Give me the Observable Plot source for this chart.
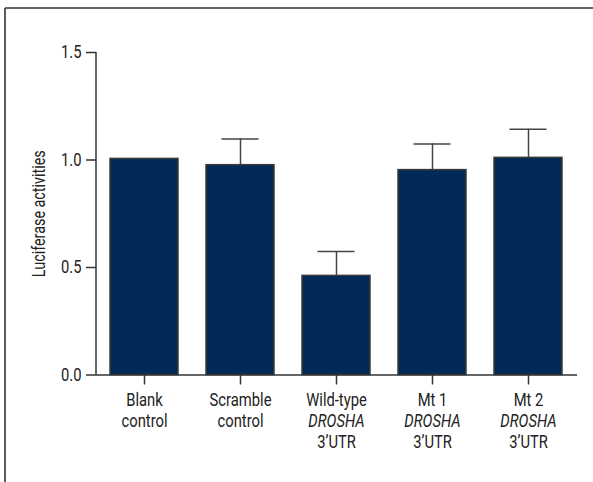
<!DOCTYPE html>
<html>
<head>
<meta charset="utf-8">
<script src="https://cdn.jsdelivr.net/npm/d3@7"></script>
<script src="https://cdn.jsdelivr.net/npm/@observablehq/plot@0.6"></script>
<style>
  html, body { margin: 0; padding: 0; background: #fff; }
  #chart { position: relative; width: 593px; height: 482px; overflow: hidden; }
  #chart svg text { font-family: Roboto, "Noto Sans", sans-serif; }
</style>
</head>
<body>
<div id="chart"></div>
<script>
// Luciferase reporter assay: relative activity per construct (mean + SD)
const categories = [
  "Blank control",
  "Scramble control",
  "Wild-type DROSHA 3'UTR",
  "Mt 1 DROSHA 3'UTR",
  "Mt 2 DROSHA 3'UTR"
];
const values = [1.005, 0.976, 0.461, 0.953, 1.010];
const errors = [0, 0.122, 0.113, 0.122, 0.133];
const labelLines = [
  ["Blank", "control"],
  ["Scramble", "control"],
  ["Wild-type", "DROSHA", "3’UTR"],
  ["Mt 1", "DROSHA", "3’UTR"],
  ["Mt 2", "DROSHA", "3’UTR"]
];
const italicWords = ["DROSHA"];
const yTicks = [0, 0.5, 1.0, 1.5];
const yTitle = "Luciferase activities";

const rows = categories.map((name, i) => ({
  name, value: values[i], err: errors[i], hi: values[i] + errors[i]
}));
const withErr = rows.filter(d => d.err > 0);
const tickLabels = categories.flatMap((name, i) =>
  labelLines[i].map((text, line) => ({
    name, text, line, italic: italicWords.includes(text)
  }))
);

const ink = "#333";
const navy = "#012a59";
const fontSize = 18;

// Outer panel edges and the vertical axis line
function decorations(index, scales, values, dims) {
  const g = d3.create("svg:g");
  g.append("line")
    .attr("x1", 5).attr("x2", dims.width).attr("y1", 8).attr("y2", 8)
    .attr("stroke", ink).attr("stroke-width", 1.6);
  g.append("line")
    .attr("x1", 5).attr("x2", 5).attr("y1", 8).attr("y2", dims.height)
    .attr("stroke", ink).attr("stroke-width", 1.6);
  g.append("line")
    .attr("x1", dims.marginLeft).attr("x2", dims.marginLeft)
    .attr("y1", scales.y(1.5)).attr("y2", scales.y(0))
    .attr("stroke", ink).attr("stroke-width", 1.5);
  return g.node();
}

// One text mark per label line (line 0, 1, 2), italic for gene names
const lineMarks = [0, 1, 2].flatMap(line => [false, true].map(italic =>
  Plot.text(tickLabels.filter(d => d.line === line && d.italic === italic), {
    x: "name", y: 0, text: "text",
    dy: 25.5 + line * 21,
    fontStyle: italic ? "italic" : "normal",
    fontSize, textAnchor: "middle", lineAnchor: "middle", fill: "#222"
  })
));

const chart = Plot.plot({
  width: 593,
  height: 482,
  marginLeft: 96,
  marginRight: 16,
  marginTop: 52,
  marginBottom: 107.5,
  style: { fontSize: `${fontSize}px`, color: "#222", background: "transparent" },
  x: { domain: categories, paddingInner: 0.29, paddingOuter: 0.145 },
  y: { domain: [0, 1.5] },
  marks: [
    Plot.barY(rows, { x: "name", y: "value", fill: navy, stroke: "#3a3a3a", strokeWidth: 1.5 }),
    Plot.ruleX(withErr, { x: "name", y1: "value", y2: "hi", stroke: "#444", strokeWidth: 1.5 }),
    Plot.tickY(withErr, { x: "name", y: "hi", stroke: "#444", strokeWidth: 1.5, insetLeft: 15.5, insetRight: 15.5 }),
    Plot.ruleY([0], { stroke: ink, strokeWidth: 1.5 }),
    Plot.axisY({
      ticks: yTicks, tickFormat: d3.format(".1f"), tickSize: 10, tickPadding: 5,
      stroke: ink, strokeWidth: 1.5, fill: "#222", fontSize, label: null
    }),
    Plot.axisX({ tickSize: 10, tickFormat: () => "", stroke: ink, strokeWidth: 1.5, label: null }),
    ...lineMarks,
    Plot.text([yTitle], {
      frameAnchor: "left", text: d => d, rotate: -90, dx: -57,
      textAnchor: "middle", lineAnchor: "middle", fontSize: 17.5, fill: "#222"
    }),
    decorations
  ]
});

document.getElementById("chart").appendChild(chart);

// Condensed lettering: squeeze each label horizontally along its own baseline
chart.querySelectorAll("text").forEach(t => {
  const len = t.getComputedTextLength();
  if (len > 0) {
    t.setAttribute("textLength", (len * 0.82).toFixed(1));
    t.setAttribute("lengthAdjust", "spacingAndGlyphs");
  }
});
</script>
</body>
</html>
